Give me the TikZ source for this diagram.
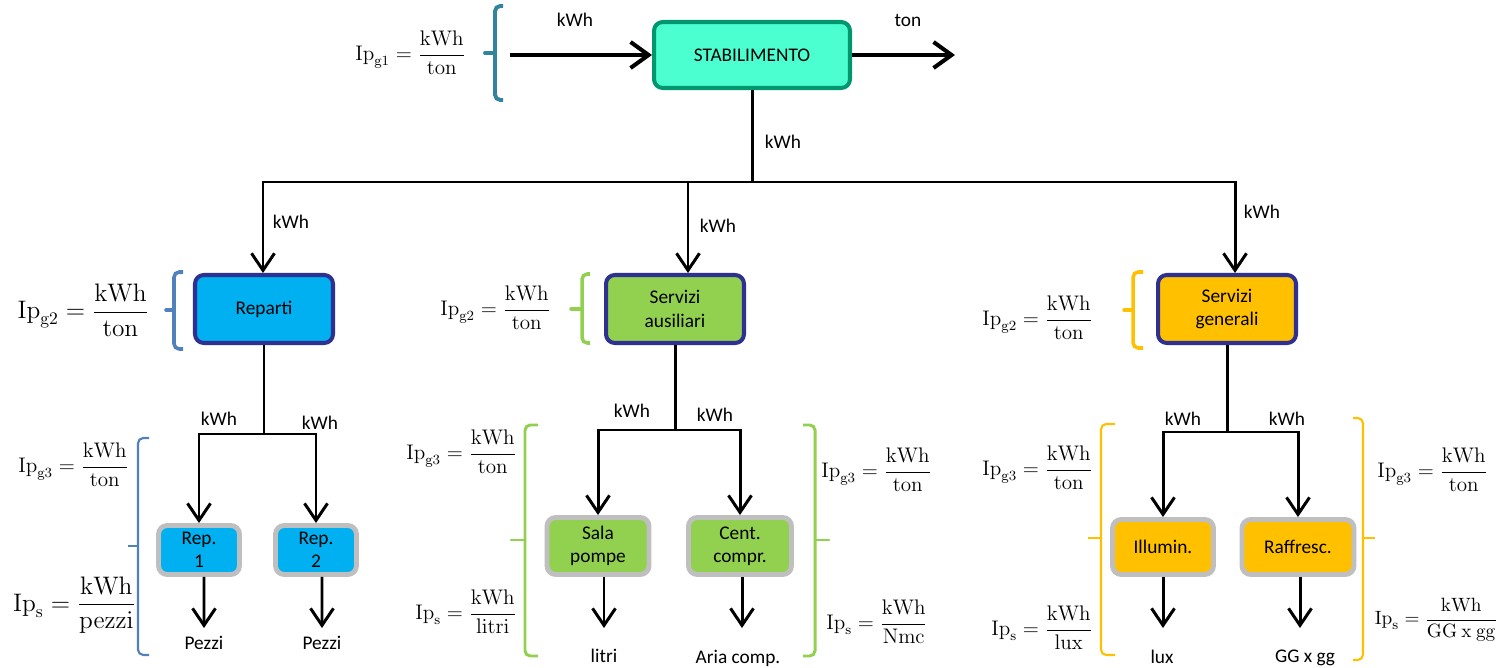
\documentclass[tikz,border=0pt]{standalone}
\usepackage{amsmath}
\usepackage[no-math]{fontspec}
\setmainfont{Carlito}
\usepackage{xcolor}
\usepackage{tikz}
\usetikzlibrary{calc, arrows.meta, positioning}

\definecolor{stabfill}{RGB}{76,255,208}
\definecolor{stabline}{RGB}{0,150,110}
\definecolor{boxline}{RGB}{46,49,146}
\definecolor{repblue}{RGB}{0,176,240}
\definecolor{ausgreen}{RGB}{146,208,80}
\definecolor{genorange}{RGB}{255,192,0}
\definecolor{brteal}{RGB}{49,132,155}
\definecolor{brblue}{RGB}{79,129,189}
\definecolor{subgray}{RGB}{191,191,191}

\newcommand{\ipfrac}[3]{$\mathrm{Ip}_{\mathrm{#1}}=\dfrac{\mathrm{#2}}{\mathrm{#3}}$}

\begin{document}
\begin{tikzpicture}[x=0.02cm, y=-0.02cm, >=latex]
		\tikzstyle{main} = [draw=boxline, line width=2.3pt, rounded corners=5pt, minimum width=2.76cm, minimum height=1.36cm, align=center, font=\fontsize{11}{13.2}\selectfont]
		\tikzstyle{sub} = [draw=subgray, line width=2.8pt, rounded corners=5pt, align=center, inner sep=1pt, font=\fontsize{11}{13.2}\selectfont]
		\tikzstyle{lbl} = [inner sep=0pt, font=\fontsize{11}{13.2}\selectfont]
		\tikzstyle{eq} = [inner sep=0pt, font=\fontsize{12}{14}\selectfont]
		\tikzstyle{bigeq} = [inner sep=0pt, font=\fontsize{14}{17}\selectfont]
		\tikzstyle{wire} = [line width=1.7pt]
		\tikzstyle{arr} = [line width=1.7pt, -{Straight Barb[length=3.4mm, width=4.6mm]}]
		\tikzstyle{bigarr} = [line width=2.3pt, -{Straight Barb[length=3.6mm, width=5.2mm]}]

		\useasboundingbox (0,0) rectangle (1501,668);

		\node[main, draw=stabline, fill=stabfill, minimum width=3.92cm, minimum height=1.32cm] at (752, 55) (stab) {STABILIMENTO};
		\node[main, fill=repblue]	at (264, 309)	(rep) 	{Reparti};
		\node[main, fill=ausgreen]	at (675, 309)	(aus) 	{Servizi\\ausiliari};
		\node[main, fill=genorange]	at (1227, 309)	(gen) 	{Servizi\\generali};

		\node[sub, fill=repblue, minimum width=1.62cm, minimum height=0.98cm]	at (199, 550)	(rep1)	{Rep.\\1};
		\node[sub, fill=repblue, minimum width=1.62cm, minimum height=0.98cm]	at (316, 550)	(rep2)	{Rep.\\2};
		\node[sub, fill=ausgreen, minimum width=2.04cm, minimum height=1.14cm]	at (598, 546)	(sala)	{Sala\\pompe};
		\node[sub, fill=ausgreen, minimum width=2.06cm, minimum height=1.14cm]	at (740, 546)	(cent)	{Cent.\\compr.};
		\node[sub, fill=genorange, minimum width=2.02cm, minimum height=1.1cm]	at (1163, 547)	(illu)	{Illumin.};
		\node[sub, fill=genorange, minimum width=2.24cm, minimum height=1.1cm]	at (1298, 547)	(raff)	{Raffresc.};

		\node[lbl, anchor=north]	at (204, 636)	(pz1)	{Pezzi};
		\node[lbl, anchor=north]	at (322, 636)	(pz2)	{Pezzi};
		\node[lbl, anchor=north]	at (604, 649)	(lit)	{litri};
		\node[lbl, anchor=north]	at (738, 650)	(aria)	{Aria comp.};
		\node[lbl, anchor=north]	at (1162, 650)	(lux)	{lux};
		\node[lbl, anchor=north]	at (1305, 650)	(ggg)	{GG x gg};

		\coordinate (in)	at (510, 55);
		\coordinate (out)	at (955, 55);
		\coordinate (j0)	at (752, 182);
		\coordinate (jr)	at (264, 434);
		\coordinate (ja)	at (675, 430);
		\coordinate (jg)	at (1227, 432);

		\draw[bigarr] (in) -- (stab.west);
		\draw[bigarr] (stab.east) -- (out);
		\draw[wire] (stab.south) -- (j0);
		\draw[arr] (j0) -| ([xshift=-0.02cm]rep.north);
		\draw[arr] (j0) -| ([xshift=0.26cm]aus.north);
		\draw[arr] (j0) -| ([xshift=0.16cm]gen.north);

		\draw[wire] (rep.south) -- (jr);
		\draw[arr] (jr) -| (rep1.north);
		\draw[arr] (jr) -| (rep2.north);
		\draw[wire] (aus.south) -- (ja);
		\draw[arr] (ja) -| (sala.north);
		\draw[arr] (ja) -| (cent.north);
		\draw[wire] (gen.south) -- (jg);
		\draw[arr] (jg) -| (illu.north);
		\draw[arr] (jg) -| (raff.north);

		\draw[arr, shorten >=0.16cm] ([xshift=0.1cm]rep1.south) -- (pz1.north);
		\draw[arr, shorten >=0.16cm] ([xshift=0.12cm]rep2.south) -- (pz2.north);
		\draw[arr, shorten >=0.42cm] ([xshift=0.12cm]sala.south) -- ([xshift=0.12cm]sala.south |- lit.north);
		\draw[arr, shorten >=0.44cm] ([xshift=0.04cm]cent.south) -- ([xshift=0.04cm]cent.south |- aria.north);
		\draw[arr, shorten >=0.44cm] (illu.south) -- (illu.south |- lux.north);
		\draw[arr, shorten >=0.44cm] ([xshift=0.04cm]raff.south) -- ([xshift=0.04cm]raff.south |- ggg.north);

		\node[lbl] at (575, 20)		(k0)	{kWh};
		\node[lbl] at (908, 20)		(t0)	{ton};
		\node[lbl] at (783, 142)	(k1)	{kWh};
		\node[lbl] at (291, 222)	(k2)	{kWh};
		\node[lbl] at (718, 226)	(k3)	{kWh};
		\node[lbl] at (1262, 212)	(k4)	{kWh};
		\node[lbl] at (219, 419)	(k5)	{kWh};
		\node[lbl] at (320, 423)	(k6)	{kWh};
		\node[lbl] at (632, 411)	(k7)	{kWh};
		\node[lbl] at (715, 415)	(k8)	{kWh};
		\node[lbl] at (1183, 419)	(k9)	{kWh};
		\node[lbl] at (1287, 419)	(k10)	{kWh};

		\node[eq, anchor=east] at (466, 53)	(ip1)	{\ipfrac{g1}{kWh}{ton}};
		\node[bigeq, anchor=east] at (149, 310)	(ip2r)	{\ipfrac{g2}{kWh}{ton}};
		\node[eq, anchor=east] at (551, 308)	(ip2a)	{\ipfrac{g2}{kWh}{ton}};
		\node[eq, anchor=east] at (1093, 318)	(ip2g)	{\ipfrac{g2}{kWh}{ton}};
		\node[eq, anchor=east] at (129, 465)	(ip3r)	{\ipfrac{g3}{kWh}{ton}};
		\node[bigeq, anchor=east] at (136, 605)	(ipsr)	{\ipfrac{s}{kWh}{pezzi}};
		\node[eq, anchor=east] at (517, 452)	(ip3a)	{\ipfrac{g3}{kWh}{ton}};
		\node[eq, anchor=east] at (517, 612)	(ipsa)	{\ipfrac{s}{kWh}{litri}};
		\node[eq, anchor=west] at (821, 470)	(ip3b)	{\ipfrac{g3}{kWh}{ton}};
		\node[eq, anchor=west] at (826, 622)	(ipsb)	{\ipfrac{s}{kWh}{Nmc}};
		\node[eq, anchor=east] at (1093, 468)	(ip3g)	{\ipfrac{g3}{kWh}{ton}};
		\node[eq, anchor=east] at (1093, 628)	(ipsg)	{\ipfrac{s}{kWh}{lux}};
		\node[eq, anchor=west] at (1377, 470)	(ip3h)	{\ipfrac{g3}{kWh}{ton}};
		\node[eq, anchor=east, font=\fontsize{11}{13}\selectfont] at (1498, 620)	(ipsh)	{\ipfrac{s}{kWh}{GG\ x\ gg}};

		\draw[brteal, line width=2.2pt, rounded corners=3pt] (503, 6) -- (495, 6) -- (495, 100) -- (503, 100);
		\draw[brteal, line width=2.2pt, line cap=round] (495, 53) -- (485, 53);
		\draw[brblue, line width=2pt, rounded corners=3pt] (183, 272) -- (174, 272) -- (174, 349) -- (183, 349);
		\draw[brblue, line width=2pt, line cap=round] (174, 310) -- (166, 310);
		\draw[ausgreen, line width=2pt, rounded corners=3pt] (590, 274) -- (582, 274) -- (582, 343) -- (590, 343);
		\draw[ausgreen, line width=2pt, line cap=round] (582, 309) -- (571, 309);
		\draw[genorange, line width=2pt, rounded corners=3pt] (1143, 272) -- (1133, 272) -- (1133, 348) -- (1143, 348);
		\draw[genorange, line width=2pt, line cap=round] (1133, 310) -- (1124, 310);

		\draw[brblue, line width=1.2pt, rounded corners=3pt] (149, 438) -- (138, 438) -- (138, 655) -- (149, 655);
		\draw[brblue, line width=1.2pt] (138, 546) -- (128, 546);
		\draw[ausgreen, line width=1.7pt, rounded corners=3pt] (538, 425) -- (525, 425) -- (525, 656) -- (538, 656);
		\draw[ausgreen, line width=1.7pt, line cap=round] (525, 540) -- (511, 540);
		\draw[ausgreen, line width=1.7pt, rounded corners=3pt] (803, 425) -- (815, 425) -- (815, 656) -- (803, 656);
		\draw[ausgreen, line width=1.7pt, line cap=round] (815, 540) -- (829, 540);
		\draw[genorange, line width=1.2pt, rounded corners=3pt] (1115, 424) -- (1101, 424) -- (1101, 655) -- (1115, 655);
		\draw[genorange, line width=1.2pt] (1101, 538) -- (1088, 538);
		\draw[genorange, line width=1.2pt, rounded corners=3pt] (1353, 418) -- (1363, 418) -- (1363, 660) -- (1353, 660);
		\draw[genorange, line width=1.2pt] (1363, 538) -- (1375, 538);
	\end{tikzpicture}
\end{document}
